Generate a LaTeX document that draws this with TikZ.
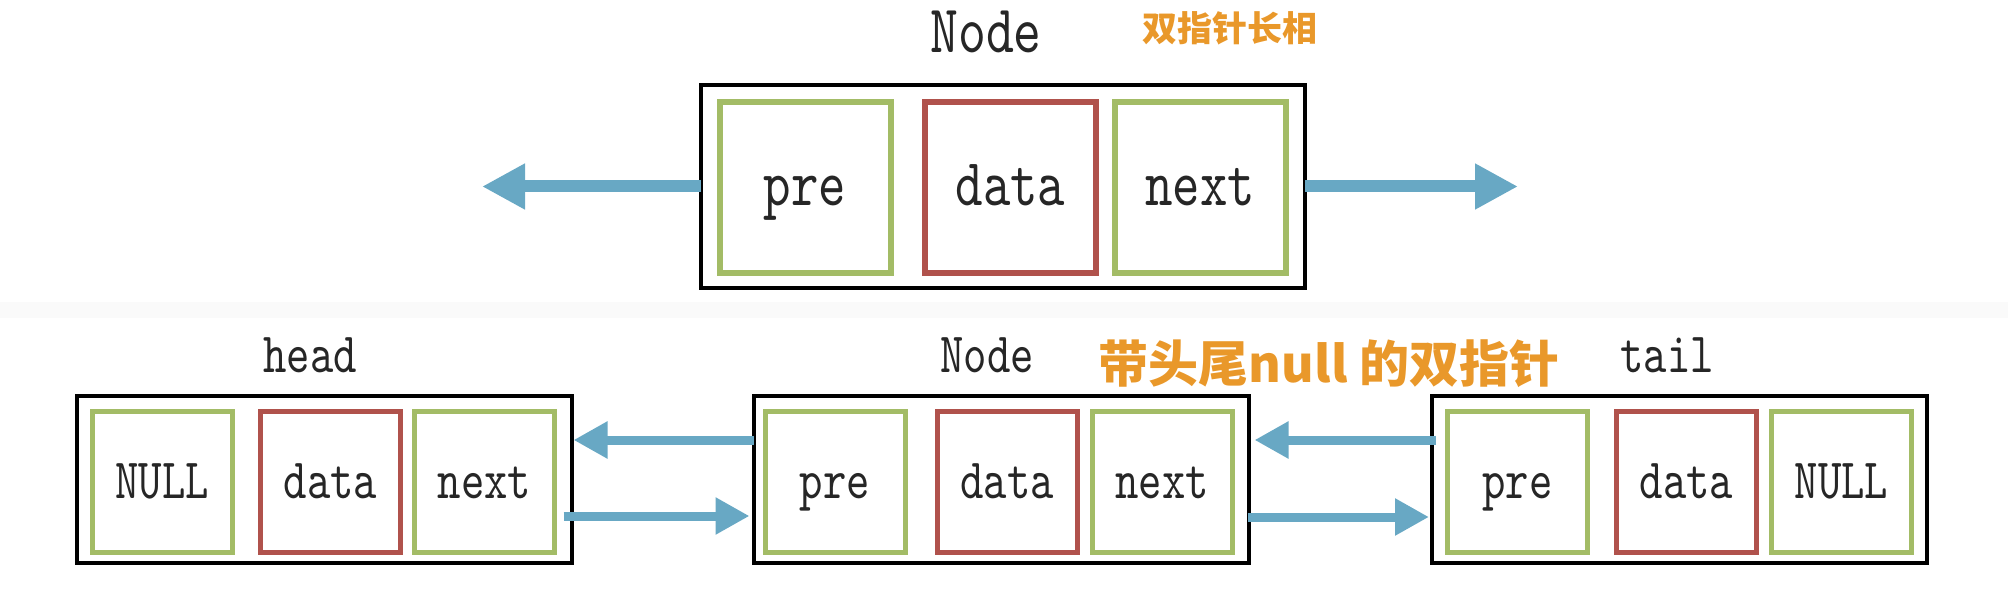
\documentclass[tikz,border=0pt]{standalone}
\usepackage{fontspec}
\usetikzlibrary{arrows.meta}
\newfontfamily\mono[FakeStretch=0.78]{lmmono10-regular.otf}
\newfontfamily\cjk{Noto Sans CJK SC}
\definecolor{gbox}{HTML}{A3BC66}
\definecolor{rbox}{HTML}{B0524C}
\definecolor{arrc}{HTML}{68A8C4}
\definecolor{org}{HTML}{E9982A}
\definecolor{band}{HTML}{FAFAFA}
\tikzset{
  outerbox/.style={draw=black, line width=4pt, inner sep=0pt, outer sep=0pt},
  cellbase/.style={line width=6pt, inner sep=0pt, outer sep=0pt, text=black!85},
  gcell/.style={cellbase, draw=gbox},
  rcell/.style={cellbase, draw=rbox},
  topcell/.style={minimum width=171pt, minimum height=171pt,
    font=\mono\fontsize{67}{67}\selectfont, text height=41pt, text depth=5pt},
  botcell/.style={minimum width=140pt, minimum height=141pt, line width=5pt,
    font=\mono\fontsize{57}{57}\selectfont, text height=39pt, text depth=5pt},
  botouter/.style={outerbox, minimum width=495pt, minimum height=167pt},
  bigarrow/.style={draw=arrc, line width=12pt, -{Triangle[length=43pt,width=43pt]}},
  smallarrow/.style={draw=arrc, line width=9pt, -{Triangle[length=34pt,width=35pt]}},
  lab/.style={anchor=base, inner sep=0pt, text=black!85},
  cnlab/.style={anchor=base, inner sep=0pt, text=org},
}
\begin{document}
\begin{tikzpicture}[x=1pt,y=-1pt]
\useasboundingbox (0,0) rectangle (2008,604);
\fill[band] (0,302) rectangle (2008,318);

% ---- top: single node ----
\node[outerbox, minimum width=604pt, minimum height=203pt] (top) at (1003,186.5) {};
\node[gcell, topcell] (tpre) at (805,187.5) {pre};
\node[rcell, topcell] (tdata) at (1010.5,187.5) {data};
\node[gcell, topcell] (tnext) at (1200,187.5) {next};
\node[lab, font=\mono\fontsize{68}{68}\selectfont] (tnode) at (986,53) {Node};
\node[cnlab, font=\cjk\bfseries\fontsize{35}{35}\selectfont] (tcn) at (1230,42) {双指针长相};

\coordinate (tl) at (482,186.5);
\coordinate (tr) at (1518,186.5);
\draw[bigarrow] (top.west) -- (tl);
\draw[bigarrow] (top.east) -- (tr);

% ---- bottom: list ----
\node[botouter] (head) at (324,479.5) {};
\node[botouter] (mid) at (1001,479.5) {};
\node[botouter] (tail) at (1679.5,479.5) {};

\node[gcell, botcell] (hnull) at (162,481.5) {NULL};
\node[rcell, botcell] (hdata) at (330.5,481.5) {data};
\node[gcell, botcell] (hnext) at (484.5,481.5) {next};

\node[gcell, botcell] (mpre) at (835,481.5) {pre};
\node[rcell, botcell] (mdata) at (1007,481.5) {data};
\node[gcell, botcell] (mnext) at (1162,481.5) {next};

\node[gcell, botcell] (tpre2) at (1517.5,481.5) {pre};
\node[rcell, botcell] (tdata2) at (1686.5,481.5) {data};
\node[gcell, botcell] (tnull) at (1841.5,481.5) {NULL};

\node[lab, font=\mono\fontsize{57}{57}\selectfont] (lhead) at (310,372) {head};
\node[lab, font=\mono\fontsize{57}{57}\selectfont] (lnode) at (987,372) {Node};
\node[lab, font=\mono\fontsize{57}{57}\selectfont] (ltail) at (1667,372) {tail};
\node[cnlab, font=\cjk\bfseries\fontsize{50}{50}\selectfont] (bcn) at (1329,382) {带头尾null 的双指针};

\draw[smallarrow] ([yshift=39.5pt]mid.west) -- ([xshift=2pt,yshift=39.5pt]head.east);
\draw[smallarrow] ([xshift=-8pt,yshift=-36.5pt]head.east) -- ([xshift=-4pt,yshift=-36.5pt]mid.west);
\draw[smallarrow] ([xshift=4pt,yshift=39.5pt]tail.west) -- ([xshift=6pt,yshift=39.5pt]mid.east);
\draw[smallarrow] ([xshift=-1pt,yshift=-37.5pt]mid.east) -- ([xshift=-3pt,yshift=-37.5pt]tail.west);
\end{tikzpicture}
\end{document}
